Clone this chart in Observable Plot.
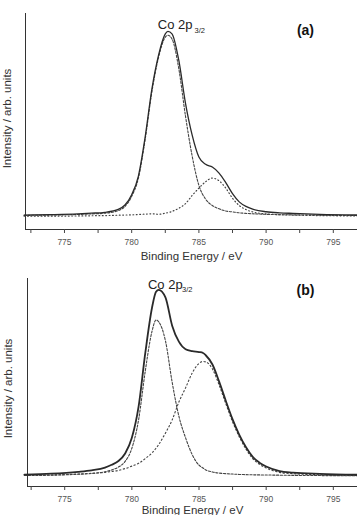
<!DOCTYPE html>
<html><head><meta charset="utf-8">
<script src="https://cdn.jsdelivr.net/npm/d3@7"></script>
<script src="https://cdn.jsdelivr.net/npm/@observablehq/plot@0.6"></script>
<style>
html,body{margin:0;padding:0;background:#fff;}
body{width:357px;height:515px;overflow:hidden;font-family:"Liberation Sans",Arial,sans-serif;}
#chart svg{display:block;overflow:visible;}
</style></head><body><div id="chart"></div>
<script>
// ---- Panel (a) ----
const energyA = [772, 774, 776, 777, 778, 779, 779.5, 780, 780.5, 781, 781.5, 782, 782.5, 782.7, 783, 783.5, 784, 784.5, 785, 785.5, 786, 786.5, 787, 787.5, 788, 788.5, 789, 790, 791, 792, 794, 797];
const envelopeA = [0.8, 1.0, 1.4, 1.8, 2.3, 3.9, 6.3, 11.9, 22.1, 43.3, 69.5, 88.2, 99.8, 101.1, 99.8, 85.5, 62, 44.5, 32.5, 28.5, 27, 23.7, 18.5, 12.5, 8, 5.5, 4, 2.6, 2.0, 1.7, 1.2, 0.8];
const mainA = [0.6, 0.8, 1.1, 1.4, 1.8, 3.2, 5.5, 11, 21, 42, 68, 87, 98, 99, 97, 81, 55, 33, 17, 9.5, 6, 4.2, 3.0, 2.5, 2.0, 1.7, 1.5, 1.2, 1.0, 0.9, 0.7, 0.5];
const satelliteA = [0.2, 0.2, 0.3, 0.4, 0.5, 0.7, 0.8, 0.9, 1.1, 1.3, 1.5, 1.2, 1.8, 2.1, 2.8, 4.5, 7, 11.5, 15.5, 19, 21, 19.5, 15.5, 10, 6, 3.8, 2.5, 1.4, 1.0, 0.8, 0.5, 0.3];

// ---- Panel (b) ----
const energyB = [772, 774, 776, 777, 778, 778.5, 779, 779.5, 780, 780.5, 781, 781.5, 781.8, 782, 782.5, 783, 783.5, 784, 784.5, 785, 785.3, 785.5, 786, 786.5, 787, 787.5, 788, 788.5, 789, 789.5, 790, 791, 792, 794, 797];
const envelopeB = [1.0, 1.5, 2.5, 3.3, 4.7, 6.2, 8.2, 12.2, 20.5, 37, 65.5, 89.5, 98, 99, 95, 80, 71.5, 67.5, 66.5, 66, 65.5, 64.3, 59.4, 50.3, 40, 30.3, 22.1, 15.5, 10.4, 7.35, 5.3, 2.9, 2.1, 1.4, 0.9];
const mainB = [0.5, 0.7, 1.2, 1.6, 2.5, 3.5, 5, 8, 15, 30, 56, 77, 83, 82, 72, 50, 32, 20.5, 11.5, 6, 4.5, 3.5, 2.4, 1.8, 1.5, 1.3, 1.1, 1.0, 0.9, 0.85, 0.8, 0.7, 0.6, 0.5, 0.4];
const satelliteB = [0.5, 0.8, 1.3, 1.7, 2.2, 2.7, 3.2, 4.2, 5.5, 7, 9.5, 12.5, 15, 17, 23, 30, 39.5, 47, 55, 60, 61, 60.8, 57, 48.5, 38.5, 29, 21, 14.5, 9.5, 6.5, 4.5, 2.2, 1.5, 0.9, 0.5];

// ---- Axes / text ----
const majorTicks = [775, 780, 785, 790, 795];
const minorTicks = [772.5, 777.5, 782.5, 787.5, 792.5];
const xTitle = "Binding Energy / eV";
const yTitle = "Intensity / arb. units";
const peakName = "Co 2p";
const peakSub = "3/2";
const panelTags = ["(a)", "(b)"];

const FONT = "'Liberation Sans', Arial, Helvetica, sans-serif";

function rows(energy, vals) { return energy.map((e, i) => ({e, v: vals[i]})); }

function panel(o) {
  const xd = o.xDomain, yd = o.yDomain;
  return Plot.plot({
    width: 357, height: o.height,
    marginTop: o.mt, marginBottom: o.mb, marginLeft: o.ml, marginRight: 0,
    x: {domain: xd, axis: null},
    y: {domain: yd, axis: null},
    style: {fontFamily: FONT, background: "#fff", overflow: "visible"},
    marks: [
      Plot.ruleY([yd[0]], {stroke: "#333", strokeWidth: 1}),
      Plot.ruleX([xd[0]], {stroke: "#333", strokeWidth: 1}),
      Plot.axisX(majorTicks, {tickSize: 4, tickPadding: 5, fontSize: 8.5, stroke: "#444", fill: "#555", label: null, tickFormat: d => String(d)}),
      Plot.axisX(minorTicks, {tickSize: 4, stroke: "#444", label: null, tickFormat: () => ""}),
      Plot.line(rows(o.energy, o.comp1), {x: "e", y: "v", curve: "monotone-x", stroke: "#444", strokeWidth: o.c1w, strokeDasharray: o.c1dash}),
      Plot.line(rows(o.energy, o.comp2), {x: "e", y: "v", curve: "monotone-x", stroke: "#444", strokeWidth: o.c2w, strokeDasharray: o.c2dash, strokeLinecap: o.c2cap}),
      Plot.line(rows(o.energy, o.envelope), {x: "e", y: "v", curve: "monotone-x", stroke: "#2a2a2a", strokeWidth: o.envW}),
      Plot.text([xTitle], {frameAnchor: "bottom", dy: o.xTitleDy, text: d => d, fontSize: 11.5, fill: "#333", lineAnchor: "middle"}),
      Plot.text([yTitle], {frameAnchor: "left", dx: o.yTitleDx, dy: o.yTitleDy, rotate: -90, text: d => d, fontSize: 11.5, fill: "#333", textAnchor: "middle", lineAnchor: "middle"}),
      Plot.text([peakName], {x: o.nameX, y: o.nameY, text: d => d, fontSize: 13, fill: "#222", textAnchor: "start", lineAnchor: "middle"}),
      Plot.text([peakSub], {x: o.subX, y: o.subY, text: d => d, fontSize: 7.5, fill: "#222", textAnchor: "start", lineAnchor: "middle"}),
      Plot.text([o.tag], {x: o.tagX, y: o.tagY, text: d => d, fontSize: 14, fontWeight: "bold", fill: "#111", textAnchor: "middle", lineAnchor: "middle"})
    ]
  });
}

const chart = document.getElementById("chart");
chart.append(panel({
  height: 262, mt: 13, mb: 33, ml: 25,
  xDomain: [772.1, 796.8], yDomain: [-7.1, 110.9],
  energy: energyA, envelope: envelopeA, comp1: mainA, comp2: satelliteA,
  c1w: 1.1, c1dash: "2.2,1.6", c2w: 1.2, c2dash: "0.8,2.6", c2cap: "round", envW: 1.3,
  xTitleDy: 27, yTitleDx: -18, yTitleDy: -3,
  nameX: 781.94, nameY: 104.9, subX: 784.67, subY: 101.6,
  tag: panelTags[0], tagX: 792.93, tagY: 101.6
}));
chart.append(panel({
  height: 253, mt: 16, mb: 29, ml: 27,
  xDomain: [772.23, 796.8], yDomain: [-5.3, 105],
  energy: energyB, envelope: envelopeB, comp1: mainB, comp2: satelliteB,
  c1w: 1.1, c1dash: "2.2,1.6", c2w: 1.1, c2dash: "2.2,1.6", c2cap: "butt", envW: 1.8,
  xTitleDy: 24, yTitleDx: -19.5, yTitleDy: 6,
  nameX: 781.2, nameY: 101.7, subX: 783.73, subY: 99.3,
  tag: panelTags[1], tagX: 792.93, tagY: 98.6
}));
</script>
</body></html>
